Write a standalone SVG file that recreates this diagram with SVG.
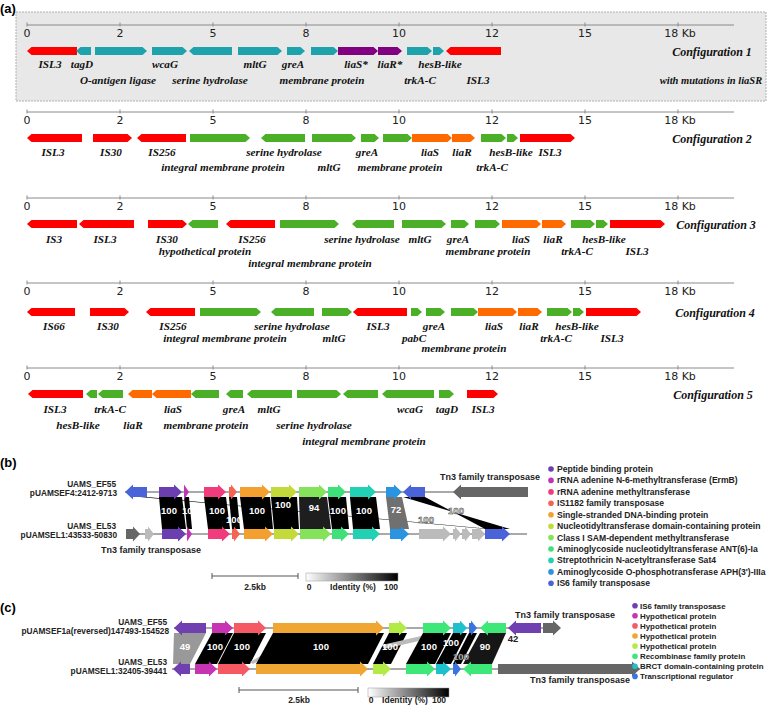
<svg xmlns="http://www.w3.org/2000/svg" xmlns:xlink="http://www.w3.org/1999/xlink" width="769" height="705" viewBox="0 0 769 705">
<style>
.lbl{font-family:"Liberation Serif",serif;font-weight:bold;font-style:italic;font-size:11.2px;text-anchor:middle;fill:#111}
.cfg{font-family:"Liberation Serif",serif;font-weight:bold;font-style:italic;font-size:12px;text-anchor:middle;fill:#111}
.sub{font-family:"Liberation Serif",serif;font-weight:bold;font-style:italic;font-size:10.5px;text-anchor:middle;fill:#111}
.tk{font-family:"DejaVu Sans",sans-serif;font-size:11px;text-anchor:middle;fill:#222}
.ax{stroke:#8a8a8a;stroke-width:1;fill:none}
.pn{font-family:"Liberation Sans",Arial,sans-serif;font-weight:bold;font-size:13px;fill:#000}
.R{fill:#ff0000}.T{fill:#1ea3ad}.P{fill:#800080}.G{fill:#4caf28}.O{fill:#ff6a00}
.sn{font-family:"Liberation Sans",Arial,sans-serif;font-weight:bold;font-size:8.3px;fill:#222;text-anchor:end}
.tn{font-family:"Liberation Sans",Arial,sans-serif;font-weight:bold;font-size:9px;fill:#222;text-anchor:middle}
.bl{font-family:"Liberation Sans",Arial,sans-serif;font-weight:bold;font-size:9.5px;fill:#fff;text-anchor:middle}
.blo{font-family:"Liberation Sans",Arial,sans-serif;font-weight:bold;font-size:9.5px;fill:#fff;stroke:#333;stroke-width:0.5;text-anchor:middle}
.lg{font-family:"Liberation Sans",Arial,sans-serif;font-weight:bold;font-size:8.6px;fill:#222}
.lg2{font-family:"Liberation Sans",Arial,sans-serif;font-weight:bold;font-size:7.9px;fill:#222}
.sc{font-family:"Liberation Sans",Arial,sans-serif;font-weight:bold;font-size:8.5px;fill:#222;text-anchor:middle}
.trk{stroke:#555;stroke-width:1}
.k{fill:#000}
.c1{fill:#6b3fb0}.c2{fill:#c334b4}.c3{fill:#f03c7c}.c4{fill:#f56450}.c5{fill:#f3a030}.c6{fill:#c4d93a}.c7{fill:#84e35a}.c8{fill:#3fe07a}.c9{fill:#22d0b4}.c10{fill:#2a94e0}.c11{fill:#4a63d8}
.d1{fill:#7040b0}.d2{fill:#c634b4}.d3{fill:#f55a64}.d4{fill:#f0a632}.d5{fill:#b4ea46}.d6{fill:#3ee878}.d7{fill:#1ec0cc}.d8{fill:#3a74e0}
.dg{fill:#666}.lgy{fill:#bbb}
</style>
<defs>
<g id="axis">
<line class="ax" x1="27" y1="0" x2="734" y2="0"/>
<path class="ax" d="M27,-2.5V1.5M120,-2.5V1.5M213,-2.5V1.5M306,-2.5V1.5M399,-2.5V1.5M492,-2.5V1.5M585,-2.5V1.5M678,-2.5V1.5"/>
<text class="tk" x="27" y="12">0</text><text class="tk" x="120" y="12">2</text><text class="tk" x="213" y="12">5</text><text class="tk" x="306" y="12">8</text><text class="tk" x="399" y="12">10</text><text class="tk" x="492" y="12">12</text><text class="tk" x="585" y="12">15</text><text class="tk" x="680" y="12">18 Kb</text>
</g>
<linearGradient id="idg" x1="0" x2="1" y1="0" y2="0"><stop offset="0" stop-color="#fff"/><stop offset="1" stop-color="#000"/></linearGradient>
</defs>
<rect width="769" height="705" fill="#fff"/>

<!-- Panel (a) -->
<text class="pn" x="0" y="13">(a)</text>
<rect x="16" y="12" width="750" height="89" fill="#e8e8e8" stroke="#b0b0b0" stroke-width="1" stroke-dasharray="2,1"/>
<use xlink:href="#axis" href="#axis" y="25"/>
<use xlink:href="#axis" href="#axis" y="112"/>
<use xlink:href="#axis" href="#axis" y="198"/>
<use xlink:href="#axis" href="#axis" y="283"/>
<use xlink:href="#axis" href="#axis" y="368"/>

<g id="config1">
<g id="c1g1"><polygon class="R" points="27,51 31.5,47 77,47 77,55 31.5,55"/><text class="lbl" x="50" y="68">ISL3</text></g>
<g id="c1g2"><polygon class="T" points="76,51 80.5,47 91,47 91,55 80.5,55"/><text class="lbl" x="82" y="68">tagD</text></g>
<g id="c1g3"><polygon class="T" points="95,47 142.5,47 147,51 142.5,55 95,55"/><text class="lbl" x="118" y="84">O-antigen ligase</text></g>
<g id="c1g4"><polygon class="T" points="152,47 182.5,47 187,51 182.5,55 152,55"/><text class="lbl" x="165" y="68">wcaG</text></g>
<g id="c1g5"><polygon class="T" points="189,51 193.5,47 232,47 232,55 193.5,55"/><text class="lbl" x="210" y="84">serine hydrolase</text></g>
<g id="c1g6"><polygon class="T" points="238,47 277.5,47 282,51 277.5,55 238,55"/><text class="lbl" x="255" y="68">mltG</text></g>
<g id="c1g7"><polygon class="T" points="287,47 300.5,47 305,51 300.5,55 287,55"/><text class="lbl" x="293" y="68">greA</text></g>
<g id="c1g8"><polygon class="T" points="311,47 333.5,47 338,51 333.5,55 311,55"/><text class="lbl" x="322" y="84">membrane protein</text></g>
<g id="c1g9"><polygon class="P" points="338,47 373.5,47 378,51 373.5,55 338,55"/><text class="lbl" x="356" y="68">liaS*</text></g>
<g id="c1g10"><polygon class="P" points="378,47 397.5,47 402,51 397.5,55 378,55"/><text class="lbl" x="390" y="68">liaR*</text></g>
<g id="c1g11"><polygon class="T" points="407,47 427.5,47 432,51 427.5,55 407,55"/><text class="lbl" x="420" y="84">trkA-C</text></g>
<g id="c1g12"><polygon class="T" points="433,47 439.5,47 444,51 439.5,55 433,55"/><text class="lbl" x="440" y="68">hesB-like</text></g>
<g id="c1g13"><polygon class="R" points="446,51 450.5,47 501,47 501,55 450.5,55"/><text class="lbl" x="478" y="84">ISL3</text></g>
<text class="cfg" x="712" y="56">Configuration 1</text>
<text class="sub" x="711" y="84">with mutations in liaSR</text>
</g>

<g id="config2">
<g id="c2g1"><polygon class="R" points="27,138 31.5,134 82,134 82,142 31.5,142"/><text class="lbl" x="53" y="156">ISL3</text></g>
<g id="c2g2"><polygon class="R" points="93,134 127.5,134 132,138 127.5,142 93,142"/><text class="lbl" x="111" y="156">IS30</text></g>
<g id="c2g3"><polygon class="R" points="137,138 141.5,134 186,134 186,142 141.5,142"/><text class="lbl" x="162" y="156">IS256</text></g>
<g id="c2g4"><polygon class="G" points="190,134 245.5,134 250,138 245.5,142 190,142"/><text class="lbl" x="223" y="171">integral membrane protein</text></g>
<g id="c2g5"><polygon class="G" points="261,138 265.5,134 305,134 305,142 265.5,142"/><text class="lbl" x="284" y="156">serine hydrolase</text></g>
<g id="c2g6"><polygon class="G" points="312,134 351.5,134 356,138 351.5,142 312,142"/><text class="lbl" x="329" y="171">mltG</text></g>
<g id="c2g7"><polygon class="G" points="361,134 374.5,134 379,138 374.5,142 361,142"/><text class="lbl" x="367" y="156">greA</text></g>
<g id="c2g8"><polygon class="G" points="383,134 407.5,134 412,138 407.5,142 383,142"/><text class="lbl" x="400" y="171">membrane protein</text></g>
<g id="c2g9"><polygon class="O" points="412,134 447.5,134 452,138 447.5,142 412,142"/><text class="lbl" x="430" y="156">liaS</text></g>
<g id="c2g10"><polygon class="O" points="452,134 470.5,134 475,138 470.5,142 452,142"/><text class="lbl" x="462" y="156">liaR</text></g>
<g id="c2g11"><polygon class="G" points="481,134 501.5,134 506,138 501.5,142 481,142"/><text class="lbl" x="492" y="171">trkA-C</text></g>
<g id="c2g12"><polygon class="G" points="507,134 513.5,134 518,138 513.5,142 507,142"/><text class="lbl" x="511" y="156">hesB-like</text></g>
<g id="c2g13"><polygon class="R" points="520,134 570.5,134 575,138 570.5,142 520,142"/><text class="lbl" x="550" y="156">ISL3</text></g>
<text class="cfg" x="712" y="143">Configuration 2</text>
</g>

<g id="config3">
<g id="c3g1"><polygon class="R" points="27,224 31.5,220 77,220 77,228 31.5,228"/><text class="lbl" x="54" y="243">IS3</text></g>
<g id="c3g2"><polygon class="R" points="79,224 83.5,220 134,220 134,228 83.5,228"/><text class="lbl" x="105" y="243">ISL3</text></g>
<g id="c3g3"><polygon class="R" points="148,220 182.5,220 187,224 182.5,228 148,228"/><text class="lbl" x="167" y="243">IS30</text></g>
<g id="c3g4"><polygon class="G" points="188,224 192.5,220 218,220 218,228 192.5,228"/><text class="lbl" x="205" y="255">hypothetical protein</text></g>
<g id="c3g5"><polygon class="R" points="226,224 230.5,220 275,220 275,228 230.5,228"/><text class="lbl" x="252" y="243">IS256</text></g>
<g id="c3g6"><polygon class="G" points="280,220 334.5,220 339,224 334.5,228 280,228"/><text class="lbl" x="310" y="267">integral membrane protein</text></g>
<g id="c3g7"><polygon class="G" points="352,224 356.5,220 394,220 394,228 356.5,228"/><text class="lbl" x="362" y="243">serine hydrolase</text></g>
<g id="c3g8"><polygon class="G" points="402,220 441.5,220 446,224 441.5,228 402,228"/><text class="lbl" x="420" y="243">mltG</text></g>
<g id="c3g9"><polygon class="G" points="451,220 464.5,220 469,224 464.5,228 451,228"/><text class="lbl" x="458" y="243">greA</text></g>
<g id="c3g10"><polygon class="G" points="475,220 495.5,220 500,224 495.5,228 475,228"/><text class="lbl" x="488" y="255">membrane protein</text></g>
<g id="c3g11"><polygon class="O" points="502,220 536.5,220 541,224 536.5,228 502,228"/><text class="lbl" x="521" y="243">liaS</text></g>
<g id="c3g12"><polygon class="O" points="542,220 561.5,220 566,224 561.5,228 542,228"/><text class="lbl" x="553" y="243">liaR</text></g>
<g id="c3g13"><polygon class="G" points="571,220 590.5,220 595,224 590.5,228 571,228"/><text class="lbl" x="577" y="255">trkA-C</text></g>
<g id="c3g14"><polygon class="G" points="596,220 603.5,220 608,224 603.5,228 596,228"/><text class="lbl" x="604" y="243">hesB-like</text></g>
<g id="c3g15"><polygon class="R" points="610,220 660.5,220 665,224 660.5,228 610,228"/><text class="lbl" x="637" y="255">ISL3</text></g>
<text class="cfg" x="716" y="229">Configuration 3</text>
</g>

<g id="config4">
<g id="c4g1"><polygon class="R" points="27,312 31.5,308 75,308 75,316 31.5,316"/><text class="lbl" x="54" y="330">IS66</text></g>
<g id="c4g2"><polygon class="R" points="90,308 124.5,308 129,312 124.5,316 90,316"/><text class="lbl" x="108" y="330">IS30</text></g>
<g id="c4g3"><polygon class="R" points="146,312 150.5,308 195,308 195,316 150.5,316"/><text class="lbl" x="173" y="330">IS256</text></g>
<g id="c4g4"><polygon class="G" points="200,308 256.5,308 261,312 256.5,316 200,316"/><text class="lbl" x="225" y="342">integral membrane protein</text></g>
<g id="c4g5"><polygon class="G" points="271,312 275.5,308 314,308 314,316 275.5,316"/><text class="lbl" x="292" y="330">serine hydrolase</text></g>
<g id="c4g6"><polygon class="G" points="322,308 347.5,308 352,312 347.5,316 322,316"/><text class="lbl" x="334" y="342">mltG</text></g>
<g id="c4g7"><polygon class="R" points="353,312 357.5,308 407,308 407,316 357.5,316"/><text class="lbl" x="378" y="330">ISL3</text></g>
<g id="c4g8"><polygon class="G" points="411,308 417.5,308 422,312 417.5,316 411,316"/><text class="lbl" x="414" y="342">pabC</text></g>
<g id="c4g9"><polygon class="G" points="426,308 440.5,308 445,312 440.5,316 426,316"/><text class="lbl" x="434" y="330">greA</text></g>
<g id="c4g10"><polygon class="G" points="451,308 473.5,308 478,312 473.5,316 451,316"/><text class="lbl" x="464" y="352">membrane protein</text></g>
<g id="c4g11"><polygon class="O" points="478,308 512.5,308 517,312 512.5,316 478,316"/><text class="lbl" x="494" y="330">liaS</text></g>
<g id="c4g12"><polygon class="O" points="518,308 537.5,308 542,312 537.5,316 518,316"/><text class="lbl" x="529" y="330">liaR</text></g>
<g id="c4g13"><polygon class="G" points="547,308 567.5,308 572,312 567.5,316 547,316"/><text class="lbl" x="556" y="342">trkA-C</text></g>
<g id="c4g14"><polygon class="G" points="573,308 579.5,308 584,312 579.5,316 573,316"/><text class="lbl" x="577" y="330">hesB-like</text></g>
<g id="c4g15"><polygon class="R" points="586,308 636.5,308 641,312 636.5,316 586,316"/><text class="lbl" x="612" y="342">ISL3</text></g>
<text class="cfg" x="715" y="317">Configuration 4</text>
</g>

<g id="config5">
<g id="c5g1"><polygon class="R" points="28,394 32.5,390 83,390 83,398 32.5,398"/><text class="lbl" x="55" y="413">ISL3</text></g>
<g id="c5g2"><polygon class="G" points="86,394 90.5,390 97,390 97,398 90.5,398"/><text class="lbl" x="78" y="429">hesB-like</text></g>
<g id="c5g3"><polygon class="G" points="98,394 102.5,390 123,390 123,398 102.5,398"/><text class="lbl" x="110" y="413">trkA-C</text></g>
<g id="c5g4"><polygon class="O" points="128,394 132.5,390 152,390 152,398 132.5,398"/><text class="lbl" x="133" y="429">liaR</text></g>
<g id="c5g5"><polygon class="O" points="152,394 156.5,390 191,390 191,398 156.5,398"/><text class="lbl" x="173" y="413">liaS</text></g>
<g id="c5g6"><polygon class="G" points="191,394 195.5,390 219,390 219,398 195.5,398"/><text class="lbl" x="206" y="429">membrane protein</text></g>
<g id="c5g7"><polygon class="G" points="226,394 230.5,390 243,390 243,398 230.5,398"/><text class="lbl" x="234" y="413">greA</text></g>
<g id="c5g8"><polygon class="G" points="247,394 251.5,390 292,390 292,398 251.5,398"/><text class="lbl" x="269" y="413">mltG</text></g>
<g id="c5g9"><polygon class="G" points="297,390 336.5,390 341,394 336.5,398 297,398"/><text class="lbl" x="314" y="429">serine hydrolase</text></g>
<g id="c5g10"><polygon class="G" points="343,394 347.5,390 378,390 378,398 347.5,398"/><text class="lbl" x="364" y="445">integral membrane protein</text></g>
<g id="c5g11"><polygon class="G" points="382,394 386.5,390 434,390 434,398 386.5,398"/><text class="lbl" x="410" y="413">wcaG</text></g>
<g id="c5g12"><polygon class="G" points="439,390 449.5,390 454,394 449.5,398 439,398"/><text class="lbl" x="447" y="413">tagD</text></g>
<g id="c5g13"><polygon class="R" points="467,390 493.5,390 498,394 493.5,398 467,398"/><text class="lbl" x="483" y="413">ISL3</text></g>
<text class="cfg" x="713" y="399">Configuration 5</text>
</g>

<!-- Panel (b) -->
<text class="pn" x="0" y="467">(b)</text>
<g id="b-tracks">
<line class="trk" x1="125" y1="492" x2="528" y2="492"/>
<line class="trk" x1="127" y1="534" x2="527" y2="534"/>
<text class="sn" x="116" y="486.5">UAMS_EF55</text>
<text class="sn" x="117" y="496">pUAMSEF4:2412-9713</text>
<text class="sn" x="116" y="528.5">UAMS_EL53</text>
<text class="sn" x="117" y="538">pUAMSEL1:43533-50830</text>
</g>
<g id="b-links">
<polygon class="k" points="140,497 147,497 490,529 486,529"/>
<polygon class="k" points="159,497 182,497 186,529 162,529"/>
<polygon class="k" points="184,497 189,497 192,529 187,529"/>
<polygon class="k" points="204,497 226,497 230,529 208,529"/>
<polygon class="k" points="229,497 237,497 240,529 232,529"/>
<polygon class="k" points="240,497 270,497 273,529 244,529"/>
<polygon class="k" points="271,497 297,497 299,529 274,529"/>
<polygon fill="#1e1e1e" points="299,497 327,497 331,529 300,529"/>
<polygon class="k" points="328,497 346,497 349,529 332,529"/>
<polygon class="k" points="350,497 376,497 380,529 353,529"/>
<polygon fill="#707070" points="386,497 402,497 409,529 390,529"/>
<polygon class="k" points="403,497 425,497 485,529 510,529"/>
<text class="bl" x="169" y="514">100</text>
<text class="bl" x="190" y="514">100</text>
<text class="bl" x="217" y="514">100</text>
<text class="bl" x="234" y="523">100</text>
<text class="bl" x="257" y="514">100</text>
<text class="bl" x="283" y="508">100</text>
<text class="bl" x="314" y="511">94</text>
<text class="bl" x="338" y="514">100</text>
<text class="bl" x="364" y="514">100</text>
<text class="bl" x="396" y="513">72</text>
<text class="blo" x="456" y="514">100</text>
<text class="blo" x="426" y="523">100</text>
</g>
<g id="b-top">
<polygon id="bt1" class="c11" points="147,487 133,487 133,484.5 125,492 133,499.5 133,497 147,497"/>
<polygon id="bt2" class="c1" points="159,487 174,487 174,484.5 182,492 174,499.5 174,497 159,497"/>
<polygon id="bt3" class="c2" points="184,484.5 189,492 184,499.5"/>
<polygon id="bt4" class="c3" points="204,487 218,487 218,484.5 226,492 218,499.5 218,497 204,497"/>
<polygon id="bt5" class="c4" points="229,487 231,487 231,484.5 237,492 231,499.5 231,497 229,497"/>
<polygon id="bt6" class="c5" points="240,487 262,487 262,484.5 270,492 262,499.5 262,497 240,497"/>
<polygon id="bt7" class="c6" points="271,487 289,487 289,484.5 297,492 289,499.5 289,497 271,497"/>
<polygon id="bt8" class="c7" points="299,487 319,487 319,484.5 327,492 319,499.5 319,497 299,497"/>
<polygon id="bt9" class="c8" points="328,487 338,487 338,484.5 346,492 338,499.5 338,497 328,497"/>
<polygon id="bt10" class="c9" points="350,487 368,487 368,484.5 376,492 368,499.5 368,497 350,497"/>
<polygon id="bt11" class="c10" points="386,487 394,487 394,484.5 402,492 394,499.5 394,497 386,497"/>
<polygon id="bt12" class="c11" points="425,487 411,487 411,484.5 403,492 411,499.5 411,497 425,497"/>
<g id="bt13"><polygon class="dg" points="528,487 461,487 461,484.5 453,492 461,499.5 461,497 528,497"/><text class="tn" x="490" y="480">Tn3 family transposase</text></g>
</g>
<g id="b-bottom">
<g id="bb1"><polygon class="dg" points="126,529 133,529 133,526.5 140,534 133,541.5 133,539 126,539"/><text class="tn" x="151" y="553">Tn3 family transposase</text></g>
<polygon id="bb2" class="lgy" points="145,529 148,529 148,526.5 154,534 148,541.5 148,539 145,539"/>
<polygon id="bb3" class="c1" points="162,529 178,529 178,526.5 186,534 178,541.5 178,539 162,539"/>
<polygon id="bb4" class="c2" points="187,526.5 192,534 187,541.5"/>
<polygon id="bb5" class="c3" points="208,529 222,529 222,526.5 230,534 222,541.5 222,539 208,539"/>
<polygon id="bb6" class="c4" points="232,529 234,529 234,526.5 240,534 234,541.5 234,539 232,539"/>
<polygon id="bb7" class="c5" points="244,529 265,529 265,526.5 273,534 265,541.5 265,539 244,539"/>
<polygon id="bb8" class="c6" points="274,529 291,529 291,526.5 299,534 291,541.5 291,539 274,539"/>
<polygon id="bb9" class="c7" points="300,529 323,529 323,526.5 331,534 323,541.5 323,539 300,539"/>
<polygon id="bb10" class="c8" points="332,529 341,529 341,526.5 349,534 341,541.5 341,539 332,539"/>
<polygon id="bb11" class="c9" points="353,529 372,529 372,526.5 380,534 372,541.5 372,539 353,539"/>
<polygon id="bb12" class="c10" points="390,529 401,529 401,526.5 409,534 401,541.5 401,539 390,539"/>
<polygon id="bb13" class="lgy" points="419,529 443,529 443,526.5 451,534 443,541.5 443,539 419,539"/>
<polygon id="bb14" class="lgy" points="453,529 455,529 455,526.5 461,534 455,541.5 455,539 453,539"/>
<polygon id="bb15" class="lgy" points="462,529 465,529 465,526.5 471,534 465,541.5 465,539 462,539"/>
<polygon id="bb16" class="lgy" points="472,529 478,529 478,526.5 485,534 478,541.5 478,539 472,539"/>
<polygon id="bb17" class="c11" points="485,529 502,529 502,526.5 510,534 502,541.5 502,539 485,539"/>
</g>
<g id="b-scale">
<path d="M212,576H298M212,573V579M298,573V579" stroke="#555" stroke-width="1" fill="none"/>
<text class="sc" x="255" y="590">2.5kb</text>
<rect x="306" y="573" width="92" height="8" fill="url(#idg)" stroke="#999" stroke-width="0.5"/>
<text class="sc" x="309" y="590">0</text>
<text class="sc" x="353" y="590">Identity (%)</text>
<text class="sc" x="391" y="590">100</text>
</g>
<g id="b-legend">
<circle class="c1" cx="551" cy="469" r="2.8"/><text class="lg" x="557" y="472">Peptide binding protein</text>
<circle class="c2" cx="551" cy="480.4" r="2.8"/><text class="lg" x="557" y="483.4">rRNA adenine N-6-methyltransferase (ErmB)</text>
<circle class="c3" cx="551" cy="491.9" r="2.8"/><text class="lg" x="557" y="494.9">rRNA adenine methyltransferase</text>
<circle class="c4" cx="551" cy="503.3" r="2.8"/><text class="lg" x="557" y="506.3">IS1182 family transposase</text>
<circle class="c5" cx="551" cy="514.7" r="2.8"/><text class="lg" x="557" y="517.7">Single-stranded DNA-binding protein</text>
<circle class="c6" cx="551" cy="526.2" r="2.8"/><text class="lg" x="557" y="529.2">Nucleotidyltransferase domain-containing protein</text>
<circle class="c7" cx="551" cy="537.6" r="2.8"/><text class="lg" x="557" y="540.6">Class I SAM-dependent methyltransferase</text>
<circle class="c8" cx="551" cy="549" r="2.8"/><text class="lg" x="557" y="552">Aminoglycoside nucleotidyltransferase ANT(6)-Ia</text>
<circle class="c9" cx="551" cy="560.4" r="2.8"/><text class="lg" x="557" y="563.4">Streptothricin N-acetyltransferase Sat4</text>
<circle class="c10" cx="551" cy="571.9" r="2.8"/><text class="lg" x="557" y="574.9">Aminoglycoside O-phosphotransferase APH(3')-IIIa</text>
<circle class="c11" cx="551" cy="583.3" r="2.8"/><text class="lg" x="557" y="586.3">IS6 family transposase</text>
</g>

<!-- Panel (c) -->
<text class="pn" x="0" y="612">(c)</text>
<g id="c-tracks">
<line class="trk" x1="174" y1="628" x2="559" y2="628"/>
<line class="trk" x1="172" y1="669" x2="640" y2="669"/>
<text class="sn" x="167" y="624.5">UAMS_EF55</text>
<text class="sn" x="169" y="633.5">pUAMSEF1a(reversed)147493-154528</text>
<text class="sn" x="167" y="664.5">UAMS_EL53</text>
<text class="sn" x="167" y="673.5">pUAMSEL1:32405-39441</text>
</g>
<g id="c-links">
<polygon fill="#999" points="174,633 206,633 190,664 173,664"/>
<polygon class="k" points="212,633 233,633 217,664 195,664"/>
<polygon class="k" points="234,633 266,633 250,664 218,664"/>
<polygon fill="#bbb" points="250,662 262,655 265,657 253,664"/>
<polygon class="k" points="273,633 384,633 368,664 256,664"/>
<polygon class="k" points="389,633 407,633 391,664 373,664"/>
<polygon fill="#bbb" points="382,645 421,636 423,640 384,649"/>
<polygon class="k" points="423,633 451,633 435,664 406,664"/>
<polygon class="k" points="453,633 467,633 451,664 436,664"/>
<polygon class="k" points="469,633 477,633 461,664 453,664"/>
<polygon fill="#161616" points="480,633 506,633 492,664 463,664"/>
<text class="bl" x="185" y="650">49</text>
<text class="bl" x="215" y="650">100</text>
<text class="bl" x="242" y="650">100</text>
<text class="bl" x="321" y="650">100</text>
<text class="bl" x="390" y="650">100</text>
<text class="bl" x="429" y="650">100</text>
<text class="bl" x="451" y="646">100</text>
<text class="blo" x="461" y="660">100</text>
<text class="bl" x="485" y="650">90</text>
<text class="sc" x="513" y="642" style="font-size:9.5px">42</text>
</g>
<g id="c-top">
<polygon id="ct1" class="d1" points="206,623 182,623 182,620.5 174,628 182,635.5 182,633 206,633"/>
<polygon id="ct2" class="d2" points="212,623 225,623 225,620.5 233,628 225,635.5 225,633 212,633"/>
<polygon id="ct3" class="d3" points="234,623 258,623 258,620.5 266,628 258,635.5 258,633 234,633"/>
<polygon id="ct4" class="d4" points="273,623 376,623 376,620.5 384,628 376,635.5 376,633 273,633"/>
<polygon id="ct5" class="d5" points="389,623 399,623 399,620.5 407,628 399,635.5 399,633 389,633"/>
<polygon id="ct6" class="d6" points="423,623 443,623 443,620.5 451,628 443,635.5 443,633 423,633"/>
<polygon id="ct7" class="d7" points="453,623 460,623 460,620.5 467,628 460,635.5 460,633 453,633"/>
<polygon id="ct8" class="d8" points="469,623 471,623 471,620.5 477,628 471,635.5 471,633 469,633"/>
<polygon id="ct9" class="d6" points="506,623 488,623 488,620.5 480,628 488,635.5 488,633 506,633"/>
<polygon id="ct10" class="d1" points="541,623 516,623 516,620.5 508,628 516,635.5 516,633 541,633"/>
<g id="ct11"><polygon class="dg" points="543,623 553,623 553,620.5 561,628 553,635.5 553,633 543,633"/><text class="tn" x="565" y="618">Tn3 family transposase</text></g>
</g>
<g id="c-bottom">
<polygon id="cb1" class="d1" points="190,664 181,664 181,661.5 173,669 181,676.5 181,674 190,674"/>
<polygon id="cb2" class="d2" points="195,664 209,664 209,661.5 217,669 209,676.5 209,674 195,674"/>
<polygon id="cb3" class="d3" points="218,664 242,664 242,661.5 250,669 242,676.5 242,674 218,674"/>
<polygon id="cb4" class="d4" points="256,664 360,664 360,661.5 368,669 360,676.5 360,674 256,674"/>
<polygon id="cb5" class="d5" points="373,664 383,664 383,661.5 391,669 383,676.5 383,674 373,674"/>
<polygon id="cb6" class="d6" points="406,664 427,664 427,661.5 435,669 427,676.5 427,674 406,674"/>
<polygon id="cb7" class="d7" points="436,664 443,664 443,661.5 451,669 443,676.5 443,674 436,674"/>
<polygon id="cb8" class="d8" points="453,664 455,664 455,661.5 461,669 455,676.5 455,674 453,674"/>
<polygon id="cb9" class="d6" points="492,664 471,664 471,661.5 463,669 471,676.5 471,674 492,674"/>
<g id="cb10"><polygon class="dg" points="498,664 632,664 632,661.5 640,669 632,676.5 632,674 498,674"/><text class="tn" x="580" y="683">Tn3 family transposase</text></g>
</g>
<g id="c-scale">
<path d="M239,690H358M239,687V693M358,687V693" stroke="#555" stroke-width="1" fill="none"/>
<text class="sc" x="299" y="703">2.5kb</text>
<rect x="368" y="688" width="81" height="9" fill="url(#idg)" stroke="#999" stroke-width="0.5"/>
<text class="sc" x="371" y="703">0</text>
<text class="sc" x="405" y="703">Identity (%)</text>
<text class="sc" x="439" y="703">100</text>
</g>
<g id="c-legend">
<circle class="d1" cx="635" cy="605.7" r="2.8"/><text class="lg2" x="640" y="608.6">IS6 family transposase</text>
<circle class="d2" cx="635" cy="615.8" r="2.8"/><text class="lg2" x="640" y="618.7">Hypothetical protein</text>
<circle class="d3" cx="635" cy="625.9" r="2.8"/><text class="lg2" x="640" y="628.8">Hypothetical protein</text>
<circle class="d4" cx="635" cy="636" r="2.8"/><text class="lg2" x="640" y="638.9">Hypothetical protein</text>
<circle class="d5" cx="635" cy="646.1" r="2.8"/><text class="lg2" x="640" y="649">Hypothetical protein</text>
<circle class="d6" cx="635" cy="656.2" r="2.8"/><text class="lg2" x="640" y="659.1">Recombinase family protein</text>
<circle class="d7" cx="635" cy="666.3" r="2.8"/><text class="lg2" x="640" y="669.2">BRCT domain-containing protein</text>
<circle class="d8" cx="635" cy="676.4" r="2.8"/><text class="lg2" x="640" y="679.3">Transcriptional regulator</text>
</g>
</svg>
